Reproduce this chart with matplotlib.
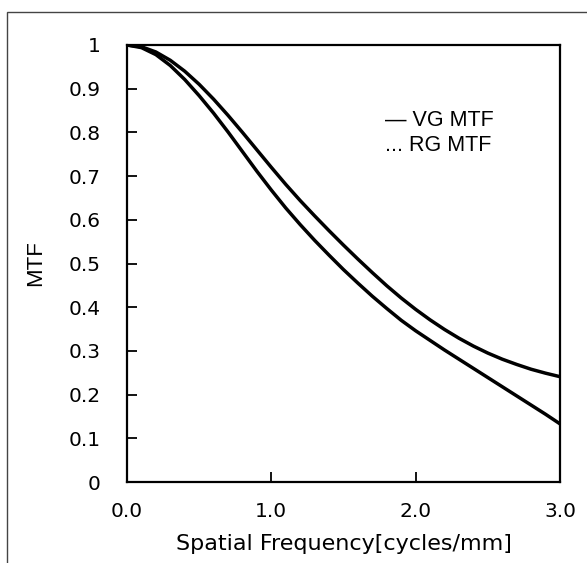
'''
MTF vs spatial frequency
'''
import matplotlib
matplotlib.use('Agg')
import matplotlib.pyplot as plt
from matplotlib.patches import Rectangle

# spatial frequency [cycles/mm]
freq = [0.0, 0.1, 0.2, 0.3, 0.4, 0.5, 0.6, 0.7, 0.8, 0.9, 1.0,
        1.1, 1.2, 1.3, 1.4, 1.5, 1.6, 1.7, 1.8, 1.9, 2.0,
        2.1, 2.2, 2.3, 2.4, 2.5, 2.6, 2.7, 2.8, 2.9, 3.0]
# upper curve
vg_mtf = [1.000, 0.996, 0.984, 0.965, 0.940, 0.910, 0.876, 0.839, 0.800, 0.760, 0.720,
          0.681, 0.644, 0.609, 0.575, 0.542, 0.510, 0.479, 0.449, 0.421, 0.395,
          0.371, 0.349, 0.329, 0.311, 0.295, 0.281, 0.269, 0.258, 0.249, 0.241]
# lower curve
rg_mtf = [1.000, 0.994, 0.978, 0.953, 0.921, 0.884, 0.844, 0.801, 0.756, 0.711, 0.668,
          0.627, 0.589, 0.553, 0.519, 0.486, 0.455, 0.425, 0.397, 0.370, 0.346,
          0.324, 0.302, 0.281, 0.260, 0.239, 0.218, 0.197, 0.176, 0.155, 0.133]

yticks = [0, 0.1, 0.2, 0.3, 0.4, 0.5, 0.6, 0.7, 0.8, 0.9, 1]
ylabels = ['0', '0.1', '0.2', '0.3', '0.4', '0.5', '0.6', '0.7', '0.8', '0.9', '1']
xticks = [0, 1, 2, 3]
xlabels = ['0.0', '1.0', '2.0', '3.0']

W, H = 587, 563
fig = plt.figure(figsize=(W / 100, H / 100), dpi=100)
# axes box in pixels: left 127, right 560, top 45, bottom 482
ax = fig.add_axes([127 / W, 1 - 482 / H, (560 - 127) / W, (482 - 45) / H])

ax.plot(freq, vg_mtf, color='black', lw=2.5)
ax.plot(freq, rg_mtf, color='black', lw=2.5)

ax.set_xlim(0, 3)
ax.set_ylim(0, 1)
ax.set_yticks(yticks)
ax.set_yticklabels(ylabels, fontfamily='DejaVu Sans', fontsize=14.5)
ax.set_xticks(xticks)
ax.set_xticklabels(xlabels, fontfamily='DejaVu Sans', fontsize=14.5)
ax.tick_params(direction='in', length=7, width=1.3)
ax.tick_params(axis='y', pad=19)
ax.tick_params(axis='x', pad=14.5)
for s in ax.spines.values():
    s.set_linewidth(1.6)
ax.set_ylabel('MTF', fontfamily='Liberation Sans', fontsize=16, labelpad=16)
ax.set_xlabel('Spatial Frequency[cycles/mm]', fontfamily='DejaVu Sans',
              fontsize=16, labelpad=9)

# legend drawn as plain text
ax.text(0.596, 0.828, '— VG MTF', transform=ax.transAxes, fontsize=15.5,
        fontfamily='Liberation Sans', va='center')
ax.text(0.596, 0.771, '... RG MTF', transform=ax.transAxes, fontsize=15.5,
        fontfamily='Liberation Sans', va='center')

# outer frame (cropped at right and bottom)
fig.patches.append(Rectangle((7 / W, -0.1), 1.2, 1 - 12 / H + 0.1,
                             transform=fig.transFigure, fill=False,
                             edgecolor='#444444', lw=1.0))

fig.savefig('out.png', dpi=100)
